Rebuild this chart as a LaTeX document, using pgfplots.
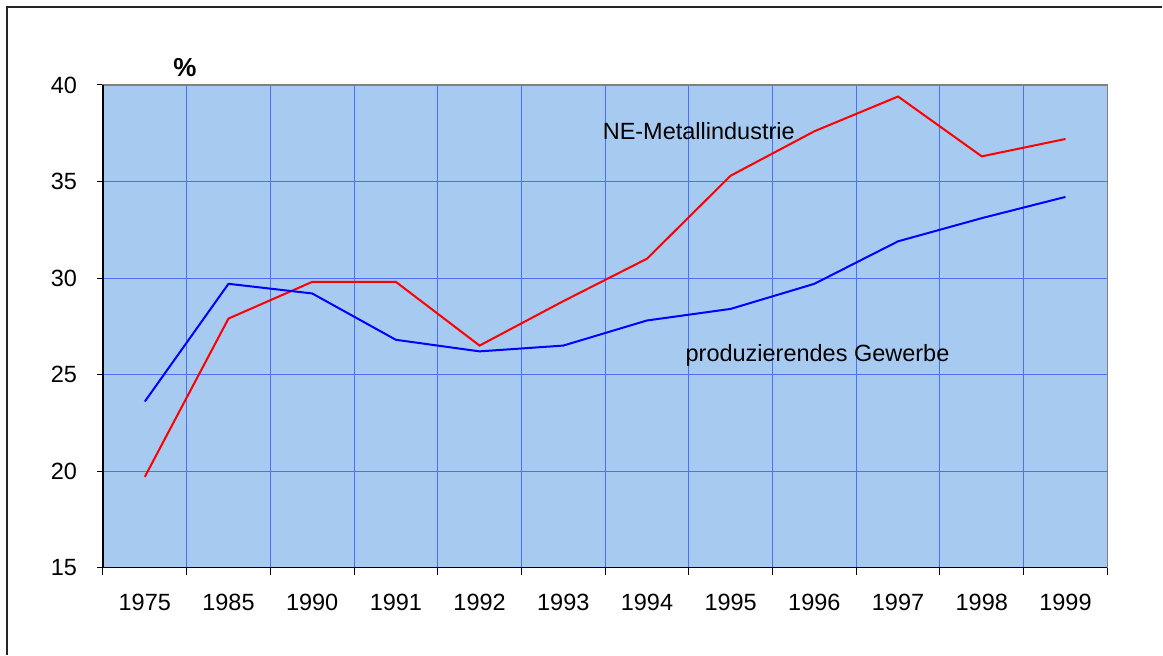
\documentclass[border=0pt]{standalone}
\usepackage{pgfplots}
\pgfplotsset{compat=1.18}
\usepackage{fontspec}
\setmainfont{Liberation Sans}
\definecolor{bgblue}{RGB}{166,202,240}
\definecolor{gridblue}{RGB}{74,112,255}
\definecolor{axgray}{RGB}{128,128,128}
\begin{document}
\fontsize{23.5bp}{28bp}\selectfont
\begin{tikzpicture}[x=1bp,y=1bp]
\path (0,0) rectangle (1163,655);
\draw[line width=1.5bp,black!85] (7,0) -- (7,648) -- (1163,648);
\begin{axis}[
  at={(103bp,87bp)}, anchor=south west,
  width=1005bp, height=483bp, scale only axis,
  xmin=-0.5, xmax=11.5, ymin=15, ymax=40,
  axis background/.style={fill=bgblue},
  axis line style={axgray, line width=1.5bp},
  xtick={0,...,11},
  xticklabels={1975,1985,1990,1991,1992,1993,1994,1995,1996,1997,1998,1999},
  major x tick style={draw=none},
  minor xtick={-0.5,0.5,...,11.5},
  minor x grid style={gridblue, line width=1bp},
  xminorgrids=true,
  minor tick length=7bp,
  ytick={15,20,...,40},
  ymajorgrids=true,
  major grid style={gridblue, line width=1bp},
  major tick length=6bp,
  tick align=outside,
  tick style={black, line width=1bp},
  xtick pos=bottom, ytick pos=left,
  /pgf/number format/assume math mode=true,
  ticklabel style={font=\fontsize{23.5bp}{28bp}\selectfont},
  xticklabel style={yshift=-12bp},
  yticklabel style={xshift=-12bp},
  clip=false,
]
\addplot[red, line width=2bp] coordinates {
(0,19.7) (1,27.9) (2,29.8) (3,29.8) (4,26.5) (5,28.8) (6,31.0) (7,35.3) (8,37.6) (9,39.4) (10,36.3) (11,37.2)};
\addplot[blue, line width=2bp] coordinates {
(0,23.6) (1,29.7) (2,29.2) (3,26.8) (4,26.2) (5,26.5) (6,27.8) (7,28.4) (8,29.7) (9,31.9) (10,33.1) (11,34.2)};
\draw[black, line width=1.5bp] (rel axis cs:0,1) -- (rel axis cs:0,0) -- (rel axis cs:1,0);
\node[anchor=west, inner sep=0] at (axis cs:5.47,37.62) {NE-Metallindustrie};
\node[anchor=west, inner sep=0] at (axis cs:6.46,25.97) {produzierendes Gewerbe};
\node[font=\bfseries\fontsize{26bp}{30bp}\selectfont, inner sep=0] at (axis cs:0.48,40.9) {\%};
\end{axis}
\end{tikzpicture}
\end{document}
